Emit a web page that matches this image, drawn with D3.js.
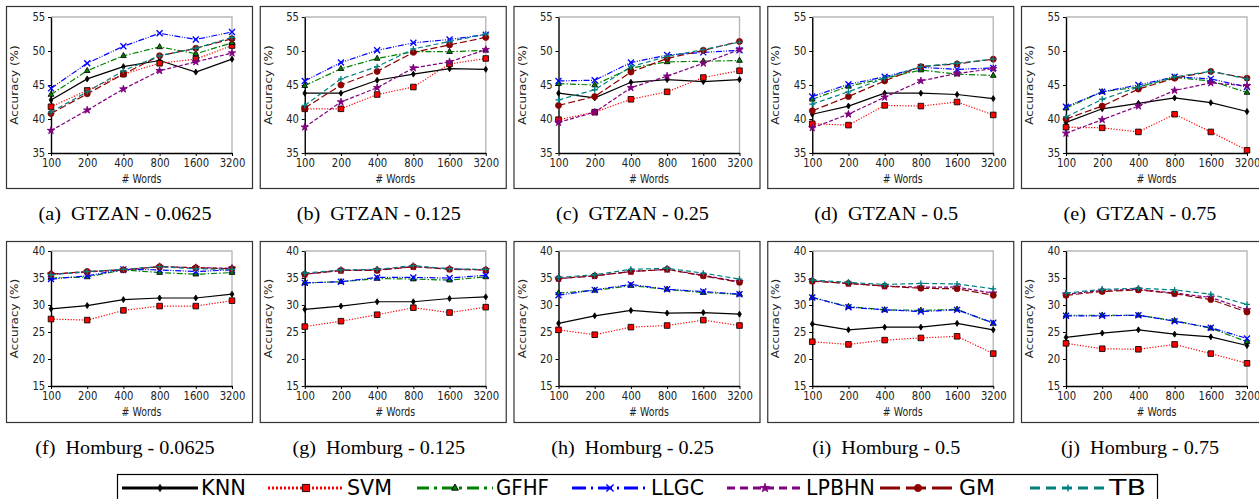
<!DOCTYPE html>
<html>
<head>
<meta charset="utf-8">
<script src="https://cdn.jsdelivr.net/npm/d3@7"></script>
<style>
body { margin: 0; background: #fff; }
svg { display: block; }
</style>
</head>
<body>
<script>
// x categories (number of words) and series names
var words = ['100', '200', '400', '800', '1600', '3200'];
var methods = ['KNN', 'SVM', 'GFHF', 'LLGC', 'LPBHN', 'GM', 'TB'];
var yTicksGtzan = [35, 40, 45, 50, 55];
var yTicksHomburg = [15, 20, 25, 30, 35, 40];

// accuracy (%) per panel, rows in the order of `methods`
var gtzan_0625 = [
  [42.8, 45.9, 47.7, 48.6, 46.9, 48.8],
  [41.8, 44.2, 46.6, 48.2, 48.8, 50.8],
  [43.6, 47.1, 49.3, 50.6, 49.6, 51.2],
  [44.5, 48.2, 50.7, 52.6, 51.7, 52.8],
  [38.3, 41.3, 44.4, 47.1, 48.4, 49.7],
  [40.8, 43.7, 46.6, 49.3, 50.4, 51.8],
  [41.0, 44.0, 47.1, 49.3, 50.4, 52.0]
];
var gtzan_125 = [
  [43.8, 43.8, 45.7, 46.6, 47.4, 47.3],
  [41.5, 41.5, 43.6, 44.7, 48.1, 48.9],
  [44.9, 47.4, 48.9, 49.9, 49.9, 50.1],
  [45.6, 48.3, 50.1, 51.2, 51.7, 52.4],
  [38.8, 42.5, 44.6, 47.5, 48.4, 50.2],
  [41.6, 45.0, 47.0, 49.8, 50.9, 52.0],
  [42.0, 45.9, 47.7, 50.3, 51.4, 52.5]
];
var gtzan_25 = [
  [43.8, 43.1, 45.4, 45.8, 45.5, 45.8],
  [39.9, 41.0, 42.9, 44.0, 46.1, 47.1],
  [45.2, 45.0, 47.5, 48.4, 48.5, 48.6],
  [45.6, 45.7, 48.3, 49.4, 49.8, 50.1],
  [39.5, 41.0, 44.6, 46.3, 48.2, 50.2],
  [42.0, 43.3, 46.9, 48.9, 50.1, 51.4],
  [42.8, 44.3, 47.7, 49.2, 50.2, 51.3]
];
var gtzan_5 = [
  [40.7, 41.9, 43.8, 43.8, 43.6, 43.0],
  [39.3, 39.1, 42.0, 41.9, 42.5, 40.6],
  [42.9, 44.8, 46.0, 47.2, 46.6, 46.4],
  [43.3, 45.1, 46.2, 47.6, 47.3, 47.5],
  [38.7, 40.7, 43.2, 45.6, 46.7, 47.4],
  [41.2, 43.3, 45.6, 47.7, 48.1, 48.8],
  [42.2, 44.0, 46.0, 47.7, 48.2, 48.8]
];
var gtzan_75 = [
  [39.5, 41.5, 42.3, 43.1, 42.4, 41.1],
  [38.8, 38.7, 38.1, 40.7, 38.1, 35.4],
  [41.6, 44.0, 44.7, 46.1, 45.6, 43.9],
  [41.8, 44.0, 45.0, 46.2, 45.9, 44.7],
  [37.9, 39.9, 41.9, 44.2, 45.3, 44.9],
  [40.0, 41.9, 44.4, 46.0, 47.0, 46.0],
  [40.3, 42.9, 44.7, 46.2, 47.0, 45.9]
];
var homburg_0625 = [
  [29.3, 29.9, 31.0, 31.3, 31.3, 32.0],
  [27.4, 27.2, 29.0, 29.8, 29.8, 30.8],
  [35.0, 35.2, 36.5, 36.0, 35.7, 36.0],
  [34.8, 35.4, 36.6, 36.5, 36.2, 36.5],
  [35.7, 36.1, 36.5, 37.1, 36.9, 36.8],
  [35.7, 36.2, 36.5, 37.1, 36.9, 36.7],
  [35.6, 36.2, 36.6, 37.1, 36.7, 36.6]
];
var homburg_125 = [
  [29.2, 29.8, 30.6, 30.6, 31.2, 31.5],
  [26.0, 27.0, 28.2, 29.5, 28.6, 29.6],
  [34.1, 34.3, 34.9, 34.8, 34.6, 35.2],
  [34.1, 34.3, 35.1, 35.1, 35.0, 35.5],
  [35.7, 36.4, 36.5, 37.1, 36.7, 36.5],
  [35.7, 36.4, 36.4, 37.1, 36.6, 36.5],
  [35.9, 36.5, 36.6, 37.3, 36.7, 36.6]
];
var homburg_25 = [
  [26.6, 28.0, 29.0, 28.5, 28.6, 28.3],
  [25.4, 24.5, 25.9, 26.2, 27.2, 26.2],
  [32.2, 32.7, 33.6, 32.9, 32.3, 32.0],
  [31.8, 32.8, 33.8, 32.9, 32.5, 32.0],
  [34.9, 35.4, 36.2, 36.6, 35.5, 34.3],
  [34.9, 35.4, 36.2, 36.6, 35.4, 34.2],
  [35.1, 35.6, 36.6, 36.8, 35.9, 34.8]
];
var homburg_5 = [
  [26.5, 25.4, 25.9, 25.9, 26.6, 25.4],
  [23.2, 22.7, 23.5, 23.9, 24.2, 21.0],
  [31.4, 29.7, 29.1, 29.0, 29.2, 26.6],
  [31.4, 29.6, 29.1, 28.8, 29.1, 26.7],
  [34.5, 34.0, 33.5, 33.3, 33.3, 32.2],
  [34.4, 34.0, 33.5, 33.1, 33.0, 31.8],
  [34.6, 34.2, 33.8, 34.0, 33.9, 33.0]
];
var homburg_75 = [
  [24.0, 24.8, 25.4, 24.6, 24.1, 22.5],
  [22.9, 21.9, 21.8, 22.7, 21.0, 19.2],
  [28.1, 28.1, 28.1, 27.1, 25.7, 23.2],
  [28.0, 28.0, 28.1, 27.0, 25.8, 23.8],
  [32.0, 32.7, 32.9, 32.2, 31.4, 29.1],
  [31.8, 32.5, 32.8, 32.1, 31.0, 28.7],
  [32.2, 32.9, 33.1, 32.8, 32.0, 30.1]
];

var panels = [
  {title: '(a)  GTZAN - 0.0625', data: gtzan_0625, row: 0, col: 0},
  {title: '(b)  GTZAN - 0.125', data: gtzan_125, row: 0, col: 1},
  {title: '(c)  GTZAN - 0.25', data: gtzan_25, row: 0, col: 2},
  {title: '(d)  GTZAN - 0.5', data: gtzan_5, row: 0, col: 3},
  {title: '(e)  GTZAN - 0.75', data: gtzan_75, row: 0, col: 4},
  {title: '(f)  Homburg - 0.0625', data: homburg_0625, row: 1, col: 0},
  {title: '(g)  Homburg - 0.125', data: homburg_125, row: 1, col: 1},
  {title: '(h)  Homburg - 0.25', data: homburg_25, row: 1, col: 2},
  {title: '(i)  Homburg - 0.5', data: homburg_5, row: 1, col: 3},
  {title: '(j)  Homburg - 0.75', data: homburg_75, row: 1, col: 4}
];

// line look for each method (same order as methods)
var styles = [
  {color: '#000000', dash: null,            legendDash: null,             marker: 'diamond'},
  {color: '#ff0000', dash: '1.2,1.6',       legendDash: '2,2',            marker: 'square'},
  {color: '#008000', dash: '6,2,1.5,2',     legendDash: '12,5,3,5',       marker: 'triangle'},
  {color: '#0000ff', dash: '6,1.5,1,1.5,1,1.5', legendDash: '14,5,2,5',   marker: 'x'},
  {color: '#800080', dash: '4,2',           legendDash: '8,5',            marker: 'star'},
  {color: '#8b0000', dash: '7,3',           legendDash: '20,6',           marker: 'circle'},
  {color: '#008080', dash: '5,3',           legendDash: '10,6',           marker: 'plus'}
];

var rows = [
  {boxTop: 6, boxBottom: 188, plotTop: 17, plotH: 136, domain: [35, 55], ticks: yTicksGtzan},
  {boxTop: 241, boxBottom: 422, plotTop: 251, plotH: 135, domain: [15, 40], ticks: yTicksHomburg}
];

var W = 1259, H = 499;
var plotW = 181;
var squeeze = 0.82;

var svg = d3.select('body').append('svg')
            .attr('width', W)
            .attr('height', H)
            .style('font-family', "'DejaVu Sans', sans-serif");

function markerPath(type, s) {
  switch (type) {
    case 'diamond': return 'M0,' + (-s) + 'L' + s * 0.62 + ',0L0,' + s + 'L' + (-s * 0.62) + ',0Z';
    case 'square': return 'M' + (-s) + ',' + (-s) + 'H' + s + 'V' + s + 'H' + (-s) + 'Z';
    case 'triangle': return 'M0,' + (-s * 1.1) + 'L' + s * 0.95 + ',' + s * 0.6 + 'L' + (-s * 0.95) + ',' + s * 0.6 + 'Z';
    case 'x': return 'M' + (-s) + ',' + (-s) + 'L' + s + ',' + s + 'M' + (-s) + ',' + s + 'L' + s + ',' + (-s);
    case 'plus': return 'M' + (-s) + ',0H' + s + 'M0,' + (-s) + 'V' + s;
    case 'star': return d3.symbol(d3.symbolStar, s * s * 1.9)();
    case 'circle': return d3.symbol(d3.symbolCircle, s * s * 3.14)();
  }
}

function styleMarker(sel, st, lw) {
  var open = st.marker === 'x' || st.marker === 'plus';
  sel.attr('fill', open ? 'none' : st.color)
     .attr('stroke', open ? st.color : (st.marker === 'square' || st.marker === 'triangle' ? '#000' : st.color))
     .attr('stroke-width', open ? lw * 1.1 : lw * 0.7);
}

function plotPanel(p) {
  var r = rows[p.row];
  var boxLeft = 6 + p.col * 253.75;
  var left = boxLeft + 45;
  var x = d3.scalePoint().domain(words).range([0, plotW]);
  var y = d3.scaleLinear().domain(r.domain).range([r.plotH, 0]);

  // subfigure frame
  svg.append('rect')
     .attr('x', boxLeft + 0.5)
     .attr('y', r.boxTop + 0.5)
     .attr('width', 246)
     .attr('height', r.boxBottom - r.boxTop)
     .attr('fill', 'none')
     .attr('stroke', '#333')
     .attr('stroke-width', 1.2);

  var g = svg.append('g').attr('transform', 'translate(' + left + ',' + r.plotTop + ')');

  // light top/right spines
  g.append('path')
   .attr('d', 'M0,0H' + plotW + 'V' + r.plotH)
   .attr('fill', 'none')
   .attr('stroke', '#b8b8b8')
   .attr('stroke-width', 1.4);

  var yAxis = d3.axisLeft(y).tickValues(r.ticks).tickSize(3).tickSizeOuter(0).tickPadding(4);
  var xAxis = d3.axisBottom(x).tickSize(3).tickSizeOuter(0).tickPadding(2.6);

  var ya = g.append('g').call(yAxis);
  var xa = g.append('g').attr('transform', 'translate(0,' + r.plotH + ')').call(xAxis);
  [ya, xa].forEach(function(a) {
    a.select('.domain').attr('stroke', '#000').attr('stroke-width', 1.4);
    a.selectAll('.tick line').attr('stroke', '#000').attr('stroke-width', 1);
    a.selectAll('.tick text')
     .attr('fill', '#222')
     .style('font-size', '12.3px')
     .style('font-family', "'DejaVu Sans', sans-serif")
     .attr('transform', 'scale(' + squeeze + ',1)');
  });

  // axis titles
  g.append('text')
   .attr('transform', 'translate(' + plotW / 2 + ',' + (r.plotH + 25.5) + ') scale(' + squeeze + ',1)')
   .attr('text-anchor', 'middle')
   .attr('dominant-baseline', 'central')
   .style('font-size', '11.5px')
   .attr('fill', '#222')
   .text('# Words');
  g.append('text')
   .attr('transform', 'translate(' + (boxLeft + 9 - left) + ',' + r.plotH / 2 + ') rotate(-90) scale(1,' + squeeze + ')')
   .attr('text-anchor', 'middle')
   .attr('dominant-baseline', 'central')
   .style('font-size', '12px')
   .attr('fill', '#222')
   .text('Accuracy (%)');

  // series
  var line = d3.line()
               .x(function(d, i) { return x(words[i]); })
               .y(function(d) { return y(d); });
  methods.forEach(function(m, k) {
    var st = styles[k];
    g.append('path')
     .datum(p.data[k])
     .attr('d', line)
     .attr('fill', 'none')
     .attr('stroke', st.color)
     .attr('stroke-width', 1.2)
     .attr('stroke-dasharray', st.dash);
    g.selectAll(null)
     .data(p.data[k])
     .enter()
       .append('path')
       .attr('transform', function(d, i) { return 'translate(' + x(words[i]) + ',' + y(d) + ')'; })
       .attr('d', markerPath(st.marker, st.marker === 'square' ? 2.8 : 3))
       .call(styleMarker, st, 1.2);
  });

  // caption
  svg.append('text')
     .attr('transform', 'translate(' + (boxLeft + 119) + ',' + (r.boxBottom + 25.5) + ') scale(1.12,1)')
     .attr('text-anchor', 'middle')
     .attr('dominant-baseline', 'central')
     .style('font-family', "'Liberation Serif', 'Times New Roman', serif")
     .style('font-size', '18px')
     .style('white-space', 'pre')
     .attr('fill', '#000')
     .text(p.title);
}

panels.forEach(plotPanel);

// legend
var legendStarts = [122, 268, 417, 572, 727, 880, 1030];
var legendWidths = [45, 45, 53, 53, 69, 36, 37];
var legend = svg.append('g');
legend.append('rect')
      .attr('x', 117.5).attr('y', 474.5)
      .attr('width', 1040).attr('height', 26)
      .attr('fill', '#fff')
      .attr('stroke', '#000')
      .attr('stroke-width', 1.2);
methods.forEach(function(m, k) {
  var st = styles[k];
  var x0 = legendStarts[k];
  var item = legend.append('g').attr('transform', 'translate(' + x0 + ',488)');
  item.append('line')
      .attr('x1', 0).attr('x2', 76)
      .attr('stroke', st.color)
      .attr('stroke-width', 3)
      .attr('stroke-dasharray', st.legendDash);
  item.append('path')
      .attr('transform', 'translate(38,0)')
      .attr('d', markerPath(st.marker, 3.6))
      .call(styleMarker, st, 1.3);
  item.append('text')
      .attr('x', 79)
      .attr('y', 0)
      .attr('dominant-baseline', 'central')
      .attr('textLength', legendWidths[k])
      .attr('lengthAdjust', 'spacingAndGlyphs')
      .style('font-size', '21px')
      .attr('fill', '#000')
      .text(m);
});
</script>
</body>
</html>
